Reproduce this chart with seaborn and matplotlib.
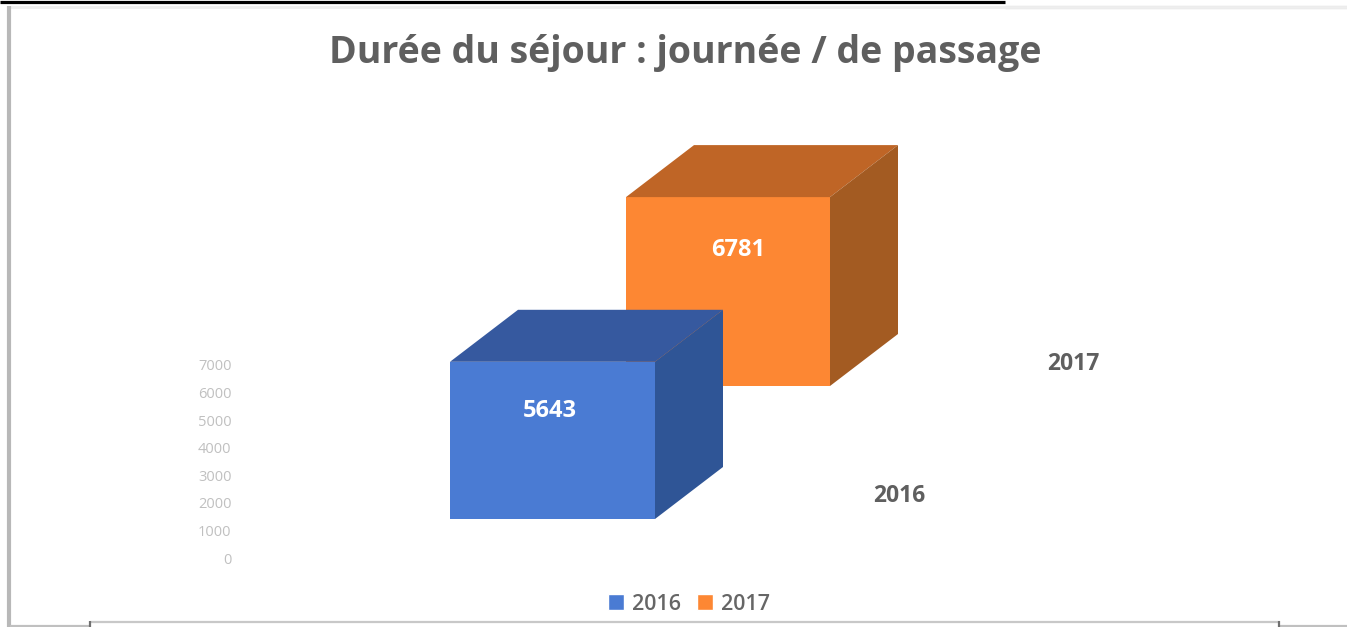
import matplotlib
matplotlib.use('Agg')
import seaborn as sns
from matplotlib import pyplot as plt
from matplotlib.lines import Line2D
from matplotlib.patches import Patch, Polygon

W, H = 1347, 627

# Values
years = ['2016', '2017']
values = [5643, 6781]
front_colors = ['#4a7bd3', '#fd8733']
top_colors = ['#36599f', '#bf6526']
side_colors = ['#2f5596', '#a35b22']
y_ticks = [0, 1000, 2000, 3000, 4000, 5000, 6000, 7000]
title = 'Durée du séjour : journée / de passage'

sns.set_theme(style='white')
plt.rcParams['font.family'] = ['Open Sans', 'DejaVu Sans']

fig = plt.figure(figsize=(W / 100, H / 100), dpi=100, facecolor='white')


def px_axes(left, right, top, bottom):
    # Axes from pixel edges of the picture (y counted from the top)
    return fig.add_axes([left / W, 1 - bottom / H, (right - left) / W, (bottom - top) / H])


def draw_box(ax, year, value, front, top, side, label_dx, label_drop):
    sns.barplot(x=[year], y=[value], color=front, saturation=1, width=1, linewidth=0, ax=ax)
    ax.set_ylim(0, 7000)
    ax.axis('off')
    # Depth faces start from the bar as it was drawn
    bar = ax.patches[0]
    x0, x1 = bar.get_x(), bar.get_x() + bar.get_width()
    to_px = ax.transData.transform
    a = to_px((x0, value))
    b = to_px((x1, value))
    c = to_px((x1, 0))
    dx, dy = 68, 52
    ax.add_patch(Polygon([a, b, b + (dx, dy), a + (dx, dy)], closed=True, facecolor=top,
                         edgecolor='none', transform=None, clip_on=False))
    ax.add_patch(Polygon([b, c, c + (dx, dy), b + (dx, dy)], closed=True, facecolor=side,
                         edgecolor='none', transform=None, clip_on=False))
    ax.annotate(str(value), xy=((x0 + x1) / 2, value), xytext=(label_dx, -label_drop), textcoords='offset pixels',
                ha='center', va='center', color='white', fontsize=17, fontweight='bold')


# Orange box sits behind the blue one
ax_back = px_axes(626, 830, 386 - 195, 386)
draw_box(ax_back, years[1], values[1], front_colors[1], top_colors[1], side_colors[1], 10, 53)
ax_front = px_axes(450, 655, 519 - 195, 519)
draw_box(ax_front, years[0], values[0], front_colors[0], top_colors[0], side_colors[0], -3, 49)

# Value axis, faint and without a line
ax_scale = px_axes(233, 234, 365, 558)
ax_scale.set_ylim(0, 7000)
ax_scale.set_yticks(y_ticks)
ax_scale.set_yticklabels([str(t) for t in y_ticks], fontsize=10.5, color='#c0c0c0')
ax_scale.set_xticks([])
ax_scale.tick_params(axis='y', length=0, pad=1)
sns.despine(ax=ax_scale, left=True, bottom=True)
ax_scale.patch.set_visible(False)

fig.text(685 / W, 1 - 53 / H, title, ha='center', va='center', fontsize=27, fontweight='bold', color='#5f5f5f')

# Depth axis labels
fig.text(899 / W, 1 - 496 / H, years[0], ha='center', va='center', fontsize=16.5, fontweight='bold', color='#5f5f5f')
fig.text(1073 / W, 1 - 364 / H, years[1], ha='center', va='center', fontsize=16.5, fontweight='bold', color='#5f5f5f')

handles = [Patch(facecolor=front_colors[0], label=years[0]), Patch(facecolor=front_colors[1], label=years[1])]
fig.legend(handles=handles, loc='center', bbox_to_anchor=(689 / W, 1 - 604 / H), ncol=2, frameon=False,
           handlelength=0.75, handleheight=0.75, handletextpad=0.4, columnspacing=0.7,
           prop={'size': 15.5, 'weight': 'semibold'}, labelcolor='#666666')


# Frame left over from the screenshot
def frame_line(x0, x1, y0, y1, color, lw):
    fig.add_artist(Line2D([x0 / W, x1 / W], [1 - y0 / H, 1 - y1 / H], color=color, lw=lw,
                          solid_capstyle='butt'))


frame_line(0, 1005, 1.5, 1.5, 'black', 2.3)
frame_line(1005, W, 6.5, 6.5, '#e4e4e4', 2.5)
frame_line(7, W, 7, 7, '#eeeeee', 2)
frame_line(8.5, 8.5, 6, H, '#b8b8b8', 3)
frame_line(90, 1280, 622, 622, '#c8c8c8', 1.6)
frame_line(10, 90, 626, 626, '#c0c0c0', 1.6)
frame_line(1280, W, 626, 626, '#c0c0c0', 1.6)
frame_line(90, 90, 621, H, '#707070', 1.6)
frame_line(1279, 1279, 621, H, '#707070', 1.6)

fig.savefig('out.png', dpi=100)
